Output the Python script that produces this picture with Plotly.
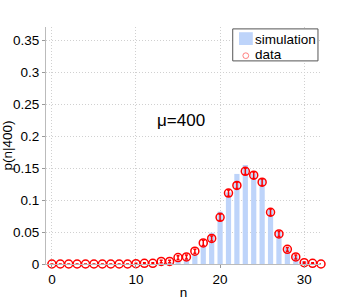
import plotly.graph_objects as go

n_vals = list(range(0, 33))
sim_vals = [0, 0, 0, 0, 0, 0, 0, 0, 0, 0, 0, 0, 0,
            0.001, 0.002, 0.004, 0.008, 0.016, 0.029, 0.049, 0.082, 0.112,
            0.141, 0.155, 0.142, 0.133, 0.085, 0.050, 0.026, 0.013, 0.004,
            0.001, 0.0]
data_vals = [0, 0, 0, 0, 0, 0, 0, 0, 0, 0, 0.0005, 0.001, 0.001,
             0.004, 0.004, 0.010, 0.011, 0.020, 0.033, 0.040, 0.073, 0.111,
             0.123, 0.145, 0.139, 0.128, 0.081, 0.047, 0.023, 0.011, 0.002,
             0.001, 0.0]
data_err = [0, 0, 0, 0, 0, 0, 0, 0, 0, 0, 0.0005, 0.001, 0.001,
            0.002, 0.002, 0.003, 0.003, 0.003, 0.004, 0.004, 0.005, 0.005,
            0.005, 0.005, 0.005, 0.005, 0.005, 0.004, 0.003, 0.003, 0.001,
            0.001, 0.0]
y_ticks = [0, 0.05, 0.1, 0.15, 0.2, 0.25, 0.3, 0.35]
y_tick_text = ["0", "0.05", "0.1", "0.15", "0.2", "0.25", "0.3", "0.35"]
x_ticks = [0, 10, 20, 30]
annotation_text = "μ=400"
legend_labels = ["simulation", "data"]

FONT = "Liberation Sans, Arial, Helvetica, sans-serif"
BAR_COLOR = "rgb(190,212,250)"
RED = "#ff0000"

fig = go.Figure()
fig.add_trace(go.Bar(
    x=n_vals, y=sim_vals, name=legend_labels[0], width=0.62,
    marker=dict(color=BAR_COLOR, line=dict(width=0)),
))
fig.add_trace(go.Scatter(
    x=n_vals, y=data_vals, name=legend_labels[1], mode="markers",
    marker=dict(symbol="circle-open", size=8, color=RED,
                line=dict(width=1.5, color=RED)),
    error_y=dict(type="data", array=data_err, visible=True,
                 color=RED, thickness=1.5, width=1.5),
    cliponaxis=False,
))

fig.add_annotation(x=15.3, y=0.224, text=annotation_text, showarrow=False,
                   xref="x", yref="y", font=dict(size=17, color="black", family=FONT))

# compact legend box (matching the reference style)
fig.add_shape(type="rect", xref="paper", yref="paper",
              x0=0.679, x1=0.989, y0=0.857, y1=0.992,
              line=dict(color="#555555", width=1), fillcolor="white", layer="above")
fig.add_shape(type="rect", xref="paper", yref="paper",
              x0=0.702, x1=0.752, y0=0.924, y1=0.978,
              line=dict(width=0), fillcolor=BAR_COLOR, layer="above")
fig.add_shape(type="circle", xref="paper", yref="paper",
              x0=0.716, x1=0.737, y0=0.867, y1=0.891,
              line=dict(color="#ff8080", width=1), fillcolor="rgba(0,0,0,0)", layer="above")
fig.add_annotation(xref="paper", yref="paper", x=0.752, y=0.949, xanchor="left",
                   yanchor="middle", text=legend_labels[0], showarrow=False,
                   font=dict(size=13.5, color="black", family=FONT))
fig.add_annotation(xref="paper", yref="paper", x=0.752, y=0.882, xanchor="left",
                   yanchor="middle", text=legend_labels[1], showarrow=False,
                   font=dict(size=13.5, color="black", family=FONT))

fig.update_layout(
    width=354, height=303,
    margin=dict(l=46, r=33, t=27, b=39),
    paper_bgcolor="white", plot_bgcolor="white",
    font=dict(family=FONT, size=13, color="black"),
    showlegend=False,
    bargap=0.3,
)
fig.update_xaxes(
    range=[-0.7, 32.0], tickvals=x_ticks, ticks="outside", ticklen=3,
    tickcolor="#999999", showline=True, linecolor="#bbbbbb", linewidth=1,
    showgrid=True, gridcolor="#d0d0d0", griddash="1px,2px", gridwidth=1,
    zeroline=False, automargin=False,
    title=dict(text="n", standoff=1, font=dict(size=13.5)),
    tickfont=dict(size=13.5),
)
fig.update_yaxes(
    range=[0, 0.371], tickvals=y_ticks, ticktext=y_tick_text, ticks="outside",
    ticklen=3, tickcolor="#999999", showline=True, linecolor="#bbbbbb",
    linewidth=1, showgrid=True, gridcolor="#d0d0d0", griddash="1px,2px",
    gridwidth=1, zeroline=False, automargin=False,
    title=dict(text="p(n|400)", standoff=6, font=dict(size=13.5)),
    tickfont=dict(size=13.5),
)

fig.write_html("out.html",
               config={"displayModeBar": False, "staticPlot": True},
               post_script="document.body.style.margin='0';"
                           "document.body.style.overflow='hidden';")
